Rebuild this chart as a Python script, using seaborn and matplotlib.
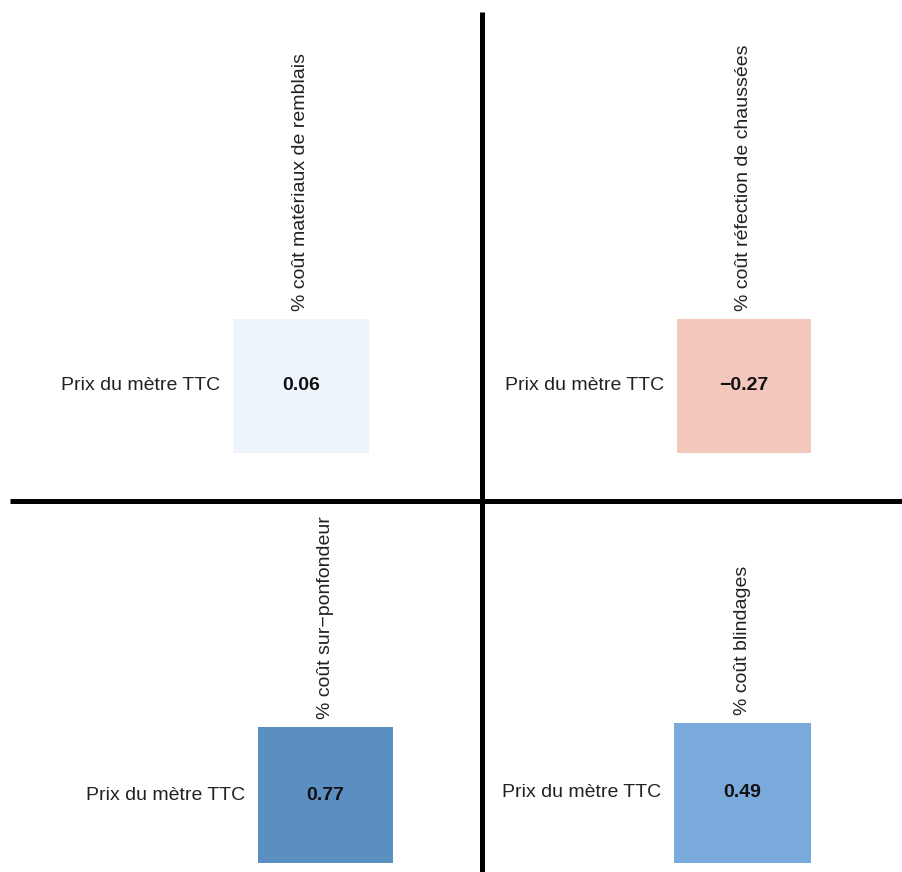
import numpy as np
import pandas as pd
import matplotlib
matplotlib.use("Agg")
import matplotlib.pyplot as plt
from matplotlib.colors import LinearSegmentedColormap
from matplotlib.lines import Line2D
import seaborn as sns

# Données
ligne = "Prix du mètre TTC"
colonnes = [
    "% coût matériaux de remblais",
    "% coût réfection de chaussées",
    "% coût sur\u2212ponfondeur",
    "% coût blindages",
]
valeurs = [0.06, -0.27, 0.77, 0.49]

sns.set_style("white")
plt.rcParams["font.family"] = ["Liberation Sans", "DejaVu Sans"]

# palette divergente rouge -> blanc -> bleu (vmin=-1, vmax=1)
cmap = LinearSegmentedColormap.from_list("rouge_bleu", [
    (0.0, "#b2473e"),
    (0.365, "#f4c7bd"),
    (0.5, "#f7f7f8"),
    (0.53, "#eef4fb"),
    (0.745, "#7aaadc"),
    (0.885, "#5b8ec1"),
    (1.0, "#3f6fa3"),
])

# position des 4 cases (gauche, bas, largeur, hauteur) en fraction de figure
rects = [
    [0.2580, 0.4805, 0.1506, 0.1537],
    [0.7497, 0.4805, 0.1484, 0.1537],
    [0.2857, 0.0103, 0.1495, 0.1560],
    [0.7464, 0.0103, 0.1517, 0.1606],
]

fig = plt.figure(figsize=(9.03, 8.72), dpi=100)

for col, val, rect in zip(colonnes, valeurs, rects):
    ax = fig.add_axes(rect)
    df = pd.DataFrame([[val]], index=[ligne], columns=[col])
    etiq = np.array([[f"{val:.2f}".replace("-", "\u2212")]])
    sns.heatmap(df, ax=ax, cmap=cmap, vmin=-1, vmax=1, cbar=False,
                annot=etiq, fmt="",
                annot_kws={"fontsize": 14, "fontweight": "bold", "color": "#111111"})
    ax.xaxis.tick_top()
    ax.set_xlabel("")
    ax.set_ylabel("")
    plt.setp(ax.get_xticklabels(), rotation=90, fontsize=14, color="#222222")
    plt.setp(ax.get_yticklabels(), rotation=0, fontsize=14, color="#222222")
    ax.tick_params(axis="x", length=0, pad=6)
    ax.tick_params(axis="y", length=0, pad=9.5)

# séparateurs des quadrants
fig.add_artist(Line2D([0.5343, 0.5343], [0.0, 0.9862], transform=fig.transFigure,
                      color="black", lw=3.6, solid_capstyle="butt"))
fig.add_artist(Line2D([0.011, 1.0], [0.4249, 0.4249], transform=fig.transFigure,
                      color="black", lw=3.6, solid_capstyle="butt"))

fig.savefig("out.png", dpi=100)
